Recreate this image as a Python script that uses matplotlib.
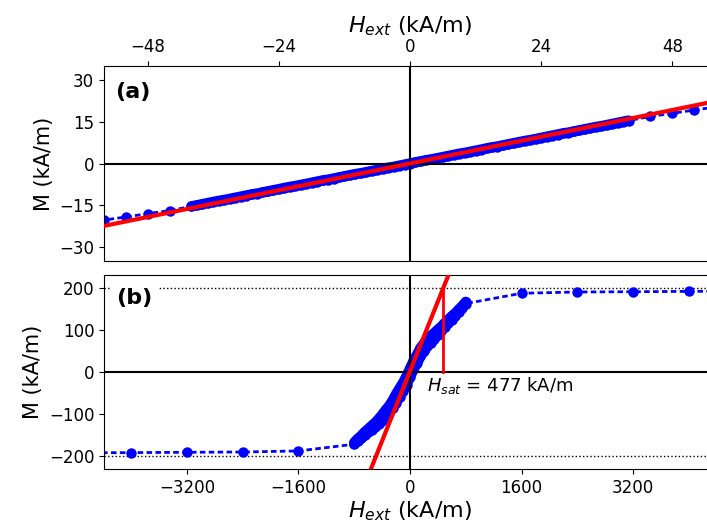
import numpy as np
import matplotlib
matplotlib.use('Agg')
import matplotlib.pyplot as plt

# ---- panel (a) data: H in kA/m, M in kA/m ----
a_H_sparse_left = [-60, -56, -52, -48, -44]
a_M_sparse_left = [-21.4, -20.3, -19.2, -18.0, -16.9]
a_H_dense = list(range(-40, 41))
a_M_dense = [-15.4, -15.0, -14.6, -14.2, -13.8, -13.4, -13.1, -12.7, -12.3, -11.9,
             -11.5, -11.1, -10.8, -10.4, -10.0, -9.6, -9.2, -8.8, -8.4, -8.1,
             -7.7, -7.3, -6.9, -6.5, -6.1, -5.8, -5.4, -5.0, -4.6, -4.2,
             -3.8, -3.5, -3.1, -2.7, -2.3, -1.9, -1.5, -1.2, -0.8, -0.4,
             0.0,
             0.4, 0.8, 1.2, 1.5, 1.9, 2.3, 2.7, 3.1, 3.5, 3.8,
             4.2, 4.6, 5.0, 5.4, 5.8, 6.1, 6.5, 6.9, 7.3, 7.7,
             8.1, 8.4, 8.8, 9.2, 9.6, 10.0, 10.4, 10.8, 11.1, 11.5,
             11.9, 12.3, 12.7, 13.1, 13.4, 13.8, 14.2, 14.6, 15.0, 15.4]
a_H_sparse_right = [44, 48, 52, 56, 60]
a_M_sparse_right = [16.9, 18.0, 19.2, 20.3, 21.4]
a_fit_slope = 0.40
a_fit_H = [-60, 60]

# ---- panel (b) data ----
b_H_sparse_left = [-4800, -4000, -3200, -2400, -1600]
b_M_sparse_left = [-192.5, -192.0, -191.2, -190.5, -188.0]
b_H_dense = list(range(-800, 801, 50))
# increasing-field branch (lower) and decreasing-field branch (upper)
b_M_up = [-172, -165, -158, -151, -144, -138, -131, -124, -116, -107,
          -97, -86, -73, -59, -46, -30, -12,
          6, 21, 37, 50, 61, 70, 79, 89, 98, 107, 117, 125, 134, 143, 153, 163]
b_M_down = [-168, -159, -152, -143, -136, -128, -121, -112, -102, -91,
            -81, -68, -53, -39, -26, -10, 8,
            26, 41, 57, 68, 77, 86, 93, 101, 108, 117, 125, 133, 140, 149, 157, 167]
b_H_sparse_right = [1600, 2400, 3200, 4000, 4800]
b_M_sparse_right = [187.5, 190.5, 191.2, 192.0, 192.5]
b_fit_slope = 0.415
b_fit_offset = 2.0
b_fit_H = [-700, 560]
H_sat = 477
M_sat = 200

W, Hpx = 707, 526
fig = plt.figure(figsize=(W / 100, Hpx / 100), dpi=100)


def px_axes(left, top, right, bottom):
    return fig.add_axes([left / W, 1 - bottom / Hpx, (right - left) / W, (bottom - top) / Hpx])


ax1 = px_axes(104, 66, 716, 261)
ax2 = px_axes(104, 275, 716, 469)

blue_kw = dict(color='blue', marker='o', markersize=7.5, markeredgewidth=0,
               linestyle='--', linewidth=2, dashes=(2, 1.2), zorder=2)
# dense measurement stretches: markers overlap into a solid band
band_kw = dict(color='blue', linewidth=7.5, solid_capstyle='round',
               solid_joinstyle='round', zorder=2)

# panel (a)
ax1.plot(a_H_sparse_left + a_H_dense + a_H_sparse_right,
         a_M_sparse_left + a_M_dense + a_M_sparse_right, **blue_kw)
ax1.plot(a_H_dense, a_M_dense, **band_kw)
ax1.axhline(0, color='black', lw=1.5, zorder=3)
ax1.axvline(0, color='black', lw=1.5, zorder=3)
fa = np.array(a_fit_H)
ax1.plot(fa, a_fit_slope * fa, color='red', lw=3, zorder=4)
ax1.set_xlim(-56, 56)
ax1.set_ylim(-35, 35)
ax1.set_xticks([-48, -24, 0, 24, 48])
ax1.set_yticks([-30, -15, 0, 15, 30])
ax1.xaxis.tick_top()
ax1.xaxis.set_label_position('top')
ax1.set_xlabel(r'$H_{ext}$ (kA/m)', fontsize=16, labelpad=4)
ax1.set_ylabel('M (kA/m)', fontsize=15)
ax1.text(0.018, 0.865, '(a)', transform=ax1.transAxes, fontsize=16,
         fontweight='bold', va='center', ha='left', zorder=5)

# panel (b)
ax2.plot(b_H_sparse_left + b_H_dense + b_H_sparse_right,
         b_M_sparse_left + b_M_up + b_M_sparse_right, **blue_kw)
ax2.plot(b_H_dense, b_M_down, **blue_kw)
ax2.plot(b_H_dense, b_M_up, **band_kw)
ax2.plot(b_H_dense, b_M_down, **band_kw)
ax2.axhline(0, color='black', lw=1.5, zorder=3)
ax2.axvline(0, color='black', lw=1.5, zorder=3)
ax2.axhline(M_sat, color='black', lw=1, ls=':', zorder=1)
ax2.axhline(-M_sat, color='black', lw=1, ls=':', zorder=1)
fb = np.array(b_fit_H)
ax2.plot(fb, b_fit_slope * fb + b_fit_offset, color='red', lw=3, zorder=4)
ax2.plot([H_sat, H_sat], [0, M_sat], color='red', lw=2, zorder=4)
ax2.text(240, -33, r'$H_{sat}$ = %d kA/m' % H_sat, fontsize=13,
         va='center', ha='left', zorder=5)
ax2.set_xlim(-4390, 4390)
ax2.set_ylim(-231, 231)
ax2.set_xticks([-3200, -1600, 0, 1600, 3200])
ax2.set_yticks([-200, -100, 0, 100, 200])
ax2.set_xlabel(r'$H_{ext}$ (kA/m)', fontsize=16, labelpad=2)
ax2.set_ylabel('M (kA/m)', fontsize=15)
ax2.text(0.02, 0.88, '(b)', transform=ax2.transAxes, fontsize=16,
         fontweight='bold', va='center', ha='left', zorder=5,
         bbox=dict(facecolor='white', edgecolor='none', pad=4))

for ax in (ax1, ax2):
    ax.tick_params(labelsize=12)

fig.savefig('out.png', dpi=100)
